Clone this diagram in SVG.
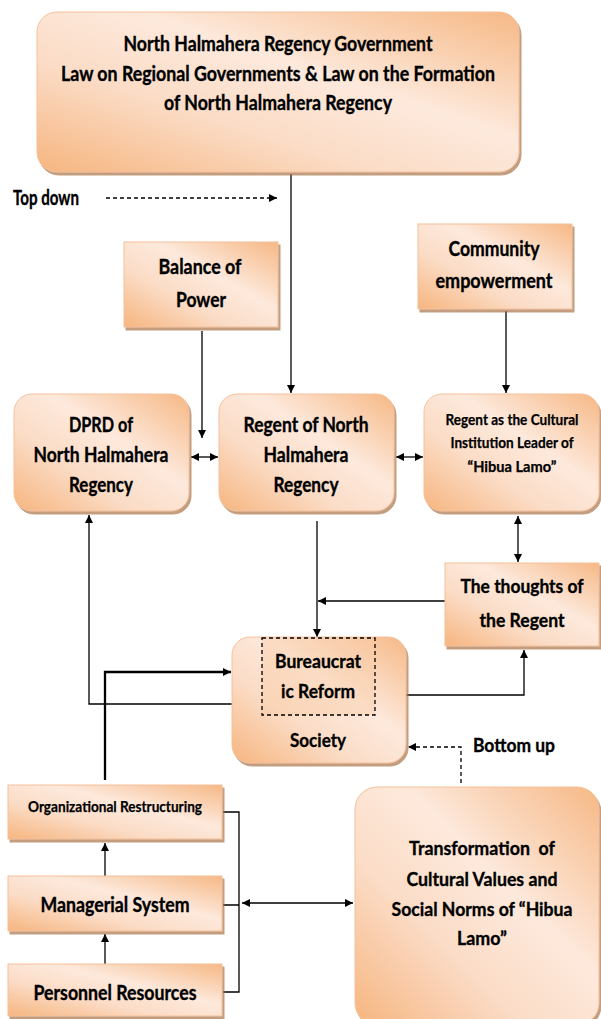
<svg xmlns="http://www.w3.org/2000/svg" width="601" height="1019" viewBox="0 0 601 1019">
<defs>
<linearGradient id="g" x1="0" y1="1" x2="1" y2="0">
<stop offset="0" stop-color="#f6b57f"/>
<stop offset="0.35" stop-color="#fbdcc6"/>
<stop offset="0.6" stop-color="#fde9dc"/>
<stop offset="1" stop-color="#f6b885"/>
</linearGradient>
<filter id="sh" x="-10%" y="-10%" width="125%" height="130%">
<feDropShadow dx="2" dy="3" stdDeviation="0.6" flood-color="#a8734a" flood-opacity="0.7"/>
</filter>
<marker id="ah" viewBox="0 0 10 10" refX="10" refY="5" markerWidth="9" markerHeight="8" markerUnits="userSpaceOnUse" orient="auto-start-reverse">
<path d="M0,0 L10,5 L0,10 z" fill="#000"/>
</marker>
</defs>
<style>
.box{fill:url(#g);stroke:#f4c09a;stroke-width:1;filter:url(#sh)}
.t{font-family:Lato,"Liberation Sans",sans-serif;font-weight:700;fill:#000;stroke:#000;stroke-width:0.35;text-anchor:middle;font-size:20px}
.s{font-size:15px;stroke-width:0.25}
.c{fill:none;stroke:#000;stroke-width:1.3}
.d{stroke-dasharray:4,3}
.k{stroke-width:2.3}
</style>

<g id="connectors">
<path class="c" d="M291,174 V393" marker-end="url(#ah)"/>
<path class="c d" d="M106,198 H277" marker-end="url(#ah)"/>
<path class="c" d="M202,331 V438" marker-end="url(#ah)"/>
<path class="c" d="M506,311 V393" marker-end="url(#ah)"/>
<path class="c" d="M191,457 H218" marker-start="url(#ah)" marker-end="url(#ah)"/>
<path class="c" d="M396,457 H423" marker-start="url(#ah)" marker-end="url(#ah)"/>
<path class="c" d="M518,516 V562" marker-start="url(#ah)" marker-end="url(#ah)"/>
<path class="c" d="M317,521 V637" marker-end="url(#ah)"/>
<path class="c" d="M445,601 H318" marker-end="url(#ah)"/>
<path class="c" d="M406,695 H524 V650" marker-end="url(#ah)"/>
<path class="c" d="M232,704 H89 V515" marker-end="url(#ah)"/>
<path class="c k" d="M105,780 V672 H231" marker-end="url(#ah)"/>
<path class="c d" d="M461,783 V747 H408" marker-end="url(#ah)"/>
<path class="c" d="M105,876 V843" marker-end="url(#ah)"/>
<path class="c" d="M105,964 V934" marker-end="url(#ah)"/>
<path class="c" d="M223,812 H239 V992 H223 M223,905 H239"/>
<path class="c" d="M242,903 H353" marker-start="url(#ah)" marker-end="url(#ah)"/>
</g>

<g id="top-box">
<rect class="box" x="37" y="12" width="482" height="160" rx="20"/>
<text class="t" x="278" y="51" textLength="309" lengthAdjust="spacingAndGlyphs">North Halmahera Regency Government</text>
<text class="t" x="278" y="81" textLength="434" lengthAdjust="spacingAndGlyphs">Law on Regional Governments &amp; Law on the Formation</text>
<text class="t" x="278" y="110" textLength="228" lengthAdjust="spacingAndGlyphs">of North Halmahera Regency</text>
</g>

<g id="top-down">
<text class="t" x="13" y="205" style="text-anchor:start" textLength="66" lengthAdjust="spacingAndGlyphs">Top down</text>
</g>

<g id="balance">
<rect class="box" x="124" y="242" width="154" height="85"/>
<text class="t" x="200" y="274" textLength="83" lengthAdjust="spacingAndGlyphs">Balance of</text>
<text class="t" x="201" y="307" textLength="50" lengthAdjust="spacingAndGlyphs">Power</text>
</g>

<g id="community">
<rect class="box" x="418" y="224" width="154" height="85"/>
<text class="t" x="494" y="256" textLength="91" lengthAdjust="spacingAndGlyphs">Community</text>
<text class="t" x="494" y="288" textLength="117" lengthAdjust="spacingAndGlyphs">empowerment</text>
</g>

<g id="dprd">
<rect class="box" x="14" y="394" width="175" height="117" rx="18"/>
<text class="t" x="101" y="432" textLength="64" lengthAdjust="spacingAndGlyphs">DPRD of</text>
<text class="t" x="101" y="462" textLength="135" lengthAdjust="spacingAndGlyphs">North Halmahera</text>
<text class="t" x="101" y="492" textLength="64" lengthAdjust="spacingAndGlyphs">Regency</text>
</g>

<g id="regent">
<rect class="box" x="219" y="394" width="175" height="117" rx="18"/>
<text class="t" x="306" y="432" textLength="125" lengthAdjust="spacingAndGlyphs">Regent of North</text>
<text class="t" x="306" y="462" textLength="85" lengthAdjust="spacingAndGlyphs">Halmahera</text>
<text class="t" x="306" y="492" textLength="65" lengthAdjust="spacingAndGlyphs">Regency</text>
</g>

<g id="cultural-leader">
<rect class="box" x="424" y="394" width="175" height="117" rx="18"/>
<text class="t s" x="512" y="425" textLength="133" lengthAdjust="spacingAndGlyphs">Regent as the Cultural</text>
<text class="t s" x="512" y="448" textLength="123" lengthAdjust="spacingAndGlyphs">Institution Leader of</text>
<text class="t s" x="512" y="472" textLength="89" lengthAdjust="spacingAndGlyphs">“Hibua Lamo”</text>
</g>

<g id="thoughts">
<rect class="box" x="445" y="563" width="154" height="83"/>
<text class="t" x="522" y="593" style="font-size:19px" textLength="123" lengthAdjust="spacingAndGlyphs">The thoughts of</text>
<text class="t" x="522" y="627" style="font-size:19px" textLength="85" lengthAdjust="spacingAndGlyphs">the Regent</text>
</g>

<g id="society">
<rect class="box" x="232" y="637" width="174" height="126" rx="18"/>
<rect x="262" y="638" width="113" height="77" fill="#f9cba6" fill-opacity="0.45" stroke="#000" stroke-width="1.3" stroke-dasharray="4,3"/>
<text class="t" x="318" y="668" style="font-size:19px" textLength="86" lengthAdjust="spacingAndGlyphs">Bureaucrat</text>
<text class="t" x="318" y="698" style="font-size:19px" textLength="74" lengthAdjust="spacingAndGlyphs">ic Reform</text>
<text class="t" x="318" y="747" style="font-size:19px" textLength="56" lengthAdjust="spacingAndGlyphs">Society</text>
</g>

<g id="bottom-up">
<text class="t" x="473" y="752" style="text-anchor:start;font-size:19px" textLength="82" lengthAdjust="spacingAndGlyphs">Bottom up</text>
</g>

<g id="org-restructuring">
<rect class="box" x="8" y="785" width="214" height="54"/>
<text class="t" x="115" y="812" style="font-size:15.5px;stroke-width:0.25" textLength="174" lengthAdjust="spacingAndGlyphs">Organizational Restructuring</text>
</g>

<g id="managerial">
<rect class="box" x="8" y="876" width="214" height="55"/>
<text class="t" x="115" y="912" textLength="149" lengthAdjust="spacingAndGlyphs">Managerial System</text>
</g>

<g id="personnel">
<rect class="box" x="8" y="964" width="214" height="52"/>
<text class="t" x="115" y="1000" textLength="163" lengthAdjust="spacingAndGlyphs">Personnel Resources</text>
</g>

<g id="transformation">
<rect class="box" x="355" y="787" width="244" height="238" rx="22"/>
<text class="t" x="482" y="855" xml:space="preserve" style="font-size:19.5px" textLength="146" lengthAdjust="spacingAndGlyphs">Transformation  of</text>
<text class="t" x="482" y="886" style="font-size:19.5px" textLength="151" lengthAdjust="spacingAndGlyphs">Cultural Values and</text>
<text class="t" x="482" y="916" style="font-size:19.5px" textLength="181" lengthAdjust="spacingAndGlyphs">Social Norms of “Hibua</text>
<text class="t" x="482" y="945" style="font-size:19.5px" textLength="50" lengthAdjust="spacingAndGlyphs">Lamo”</text>
</g>
</svg>
